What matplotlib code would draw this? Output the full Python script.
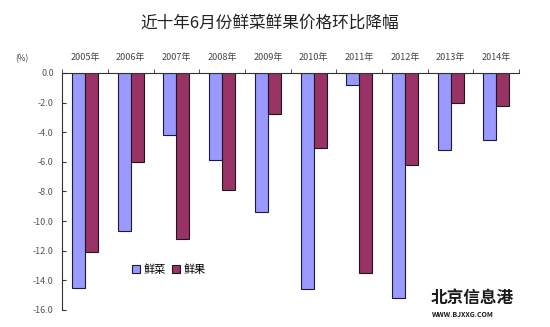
import numpy as np
import matplotlib
matplotlib.use('Agg')
import matplotlib.pyplot as plt

plt.rcParams['font.family'] = ['Noto Sans CJK SC', 'DejaVu Sans']

years = ['2005年', '2006年', '2007年', '2008年', '2009年',
         '2010年', '2011年', '2012年', '2013年', '2014年']
veg = [-14.5, -10.7, -4.2, -5.9, -9.4, -14.6, -0.8, -15.2, -5.2, -4.5]
fruit = [-12.1, -6.0, -11.2, -7.9, -2.8, -5.1, -13.5, -6.2, -2.0, -2.2]
yticks = np.arange(0, -16.1, -2)

fig = plt.figure(figsize=(5.5, 3.27), dpi=100)
ax = fig.add_axes([0.113, 0.052, 0.831, 0.725])

x = np.arange(len(years))
w = 0.285
ax.bar(x - w/2, veg, w, color='#9999FF', edgecolor='#1a1a3a', linewidth=0.8, label='鲜菜')
ax.bar(x + w/2, fruit, w, color='#993366', edgecolor='#1a1a1a', linewidth=0.8, label='鲜果')

ax.set_xlim(-0.5, len(years) - 0.5)
ax.set_ylim(-16, 0)
ax.set_yticks(yticks)
ax.set_yticklabels(['%.1f' % v if v != 0 else '0.0' for v in yticks], fontsize=6.5, color='#555555')

ax.xaxis.tick_top()
ax.set_xticks(x)
ax.set_xticklabels(years, fontsize=6.5, color='#444444')
ax.set_xticks(np.arange(-0.5, len(years)), minor=True)
ax.tick_params(axis='x', which='major', length=0, pad=8)
ax.tick_params(axis='x', which='minor', length=3, direction='out', color='#333333')
ax.tick_params(axis='y', length=3, direction='in', color='#333333', pad=6)

for s in ['bottom', 'right']:
    ax.spines[s].set_visible(False)
for s in ['top', 'left']:
    ax.spines[s].set_color('#333333')
    ax.spines[s].set_linewidth(0.8)

fig.text(0.028, 0.822, '(%)', fontsize=6, color='#444444', va='center')
fig.text(0.49, 0.93, '近十年6月份鲜菜鲜果价格环比降幅', fontsize=12, ha='center', va='center', color='#222222')

ax.legend(loc='upper left', bbox_to_anchor=(0.13, 0.235), ncol=2, frameon=False,
          fontsize=8, handlelength=0.8, handleheight=0.8, handletextpad=0.3,
          columnspacing=0.5)

fig.text(0.783, 0.088, '北京信息港', fontsize=12, fontweight='bold', color='#1a1a1a', va='center')
fig.text(0.786, 0.037, 'WWW.BJXXG.COM', fontsize=5, fontweight='bold', color='#1a1a1a', va='center')

fig.savefig('out.png', dpi=100)
